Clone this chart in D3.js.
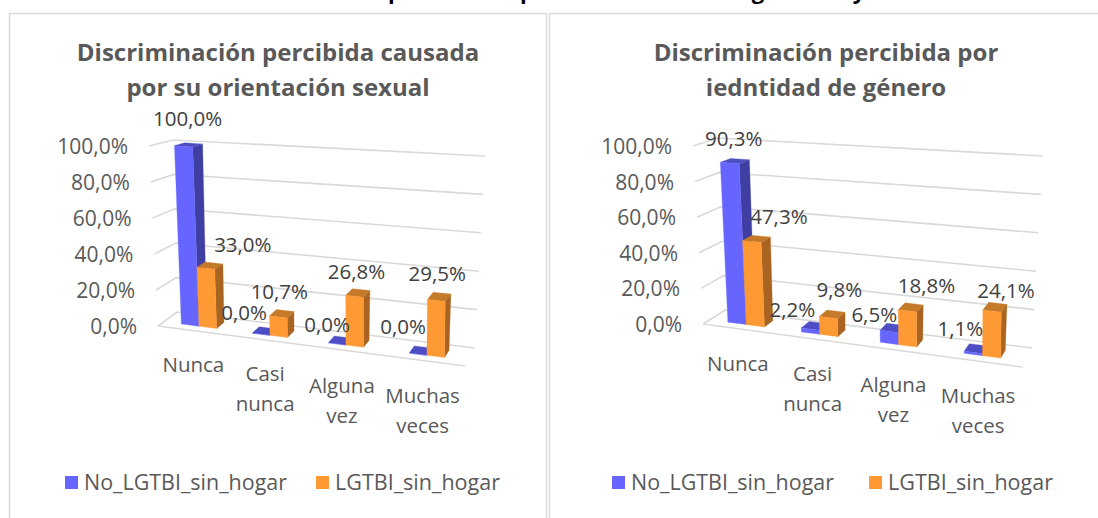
<!DOCTYPE html>
<html>
<head>
<meta charset="utf-8">
<script src="https://cdn.jsdelivr.net/npm/d3@7"></script>
<style>
  html, body { margin: 0; background: #fff; overflow: hidden; }
  text { font-family: "Open Sans", sans-serif; }
</style>
</head>
<body>
<script>
const categories = ['Nunca', 'Casi nunca', 'Alguna vez', 'Muchas veces']
const seriesNames = ['No_LGTBI_sin_hogar', 'LGTBI_sin_hogar']
const yTicks = [0, 20, 40, 60, 80, 100]

const titleLeft = ['Discriminación percibida causada', 'por su orientación sexual']
const noLgtbiLeft = [100.0, 0.0, 0.0, 0.0]
const lgtbiLeft = [33.0, 10.7, 26.8, 29.5]

const titleRight = ['Discriminación percibida por', 'iedntidad de género']
const noLgtbiRight = [90.3, 2.2, 6.5, 1.1]
const lgtbiRight = [47.3, 9.8, 18.8, 24.1]

// only the bottoms of these letters are left of the cropped heading
const headGlyphs = ['p', 'p', 'g', 'y']
const headX = [395, 527, 758, 859]

const colors = ['#6666ff', '#ff9933']
const sideColors = ['#3f3fa3', '#a86420']
const topColors = ['#4d4dc4', '#c47a28']

let w = 1098
let h = 518
let svg = d3.select('body').append('svg').attr('width', w).attr('height', h).style('display', 'block')

let fmt = d => d.toFixed(1).replace('.', ',') + '%'

// top of the picture
svg.selectAll('text.head')
  .data(headGlyphs)
  .enter()
  .append('text')
  .attr('class', 'head')
  .attr('x', (d, i) => headX[i])
  .attr('y', -1)
  .attr('text-anchor', 'middle')
  .attr('font-size', 22)
  .attr('font-weight', 700)
  .attr('fill', '#000')
  .text(d => d)

function drawChart(cfg) {
  let g = svg.append('g')

  g.append('rect')
    .attr('x', cfg.frame[0] + 0.5).attr('y', 13.5)
    .attr('width', cfg.frame[1] - cfg.frame[0]).attr('height', 530)
    .attr('fill', '#fff').attr('stroke', '#d9d9d9').attr('stroke-width', 1.5)

  cfg.title.forEach((t, i) => {
    g.append('text')
      .attr('x', cfg.titleX).attr('y', 61 + i * 35)
      .attr('text-anchor', 'middle')
      .attr('font-size', 24).attr('font-weight', 700).attr('fill', '#595959')
      .text(t)
  })

  // 3d box: t along the categories, d into the depth, v up the value axis
  let c = cfg.corners
  let yScale = d3.scaleLinear().domain([0, 100]).range([0, 1])
  let band = d3.scaleBand().domain(categories).range([0, 1])
  let mix = (a, b, k) => [a[0] + (b[0] - a[0]) * k, a[1] + (b[1] - a[1]) * k]
  function proj(t, d, val) {
    let v = yScale(val)
    let f = mix(mix(c.f0, c.f1, v), mix(c.r0, c.r1, v), t)
    let b = mix(mix(c.b0, c.b1, v), mix(c.s0, c.s1, v), t)
    return mix(f, b, d)
  }
  let line = d3.line()
  let gridCol = '#d9d9d9'

  // grid lines, back wall and left wall
  yTicks.forEach(tick => {
    g.append('path')
      .attr('d', line([proj(0, 0, tick), proj(0, 1, tick), proj(1, 1, tick)]))
      .attr('fill', 'none').attr('stroke', gridCol).attr('stroke-width', 1.6)
  })
  g.append('path')
    .attr('d', line([proj(0, 0, 0), proj(1, 0, 0)]))
    .attr('fill', 'none').attr('stroke', gridCol).attr('stroke-width', 1.6)

  // y labels
  g.selectAll('text.tick')
    .data(yTicks)
    .enter()
    .append('text')
    .attr('class', 'tick')
    .attr('x', d => proj(0, 0, d)[0] - 21)
    .attr('y', d => proj(0, 0, d)[1] + 8)
    .attr('text-anchor', 'end')
    .attr('font-size', 21).attr('fill', '#595959')
    .text(d => fmt(d))

  // category labels
  categories.forEach((cat, i) => {
    let p = proj(band(cat) + band.bandwidth() / 2, 0, 0)
    let words = i == 0 ? [cat] : cat.split(' ')
    words.forEach((word, j) => {
      g.append('text')
        .attr('x', p[0] + cfg.catDx[i]).attr('y', cfg.catY[i] + j * 30)
        .attr('text-anchor', 'middle')
        .attr('font-size', 20.5).attr('fill', '#595959')
        .text(word)
    })
  })

  // bars
  let barW = 0.058
  let d0 = 0.3
  let d1 = 0.72
  function face(pts, fill) {
    g.append('path').attr('d', line(pts) + 'Z').attr('fill', fill).attr('stroke', fill).attr('stroke-width', 0.3)
  }
  function bar(s, cat, val, i) {
    let mid = band(cat) + band.bandwidth() / 2 + cfg.catShift[i]
    let t0 = mid + (s - 1) * barW
    let t1 = t0 + barW
    face([proj(t1, d0, 0), proj(t1, d1, 0), proj(t1, d1, val), proj(t1, d0, val)], sideColors[s])
    face([proj(t0, d0, val), proj(t1, d0, val), proj(t1, d1, val), proj(t0, d1, val)], topColors[s])
    face([proj(t0, d0, 0), proj(t1, d0, 0), proj(t1, d0, val), proj(t0, d0, val)], colors[s])
  }
  cfg.values.forEach((vals, s) => {
    vals.forEach((v, i) => bar(s, categories[i], v, i))
  })

  // value labels
  cfg.values.forEach((vals, s) => {
    vals.forEach((v, i) => {
      let mid = band(categories[i]) + band.bandwidth() / 2 + cfg.catShift[i]
      let p = proj(mid + (s - 0.5) * barW, d0, v)
      let n = cfg.labelNudge[s][i]
      g.append('text')
        .attr('x', p[0] + n[0]).attr('y', p[1] + n[1])
        .attr('text-anchor', 'middle')
        .attr('font-size', 20.5).attr('fill', '#404040')
        .text(fmt(v))
    })
  })

  // legend
  seriesNames.forEach((name, s) => {
    g.append('rect')
      .attr('x', cfg.legendX[s]).attr('y', 476)
      .attr('width', 13).attr('height', 13)
      .attr('fill', colors[s])
    g.append('text')
      .attr('x', cfg.legendX[s] + 19).attr('y', 490)
      .attr('font-size', 21.5).attr('fill', '#595959')
      .attr('textLength', cfg.legendW[s]).attr('lengthAdjust', 'spacingAndGlyphs')
      .text(name)
  })
}

drawChart({
  frame: [9, 546],
  title: titleLeft,
  titleX: 278,
  values: [noLgtbiLeft, lgtbiLeft],
  corners: { f0: [158, 326], f1: [149, 146], b0: [177, 312], b1: [173, 140], r0: [465, 366], r1: [465, 175], s0: [475, 348], s1: [485, 156] },
  catShift: [-0.009, -0.026, -0.026, -0.01],
  catDx: [-3, -8, -8, -4],
  catY: [372, 381, 393, 403],
  labelNudge: [
    [[4, -20], [-17, -14], [-10, -12], [-15, -20]],
    [[37, -16], [1, -18], [2, -17], [1, -19]]
  ],
  legendX: [65, 316],
  legendW: [203, 165]
})

drawChart({
  frame: [549, 1110],
  title: titleRight,
  titleX: 826,
  values: [noLgtbiRight, lgtbiRight],
  corners: { f0: [703, 324], f1: [693, 146], b0: [725, 310], b1: [718, 138], r0: [1022, 367], r1: [1022, 175], s0: [1032, 348], s1: [1043, 156] },
  catShift: [-0.009, -0.026, -0.026, -0.01],
  catDx: [-5, -10, -9, -4],
  catY: [371, 381, 392, 403],
  labelNudge: [
    [[4, -17], [-18, -12], [-15, -9], [-13, -16]],
    [[27, -17], [11, -21], [19, -18], [14, -13]]
  ],
  legendX: [612, 869],
  legendW: [203, 165]
})
</script>
</body>
</html>
